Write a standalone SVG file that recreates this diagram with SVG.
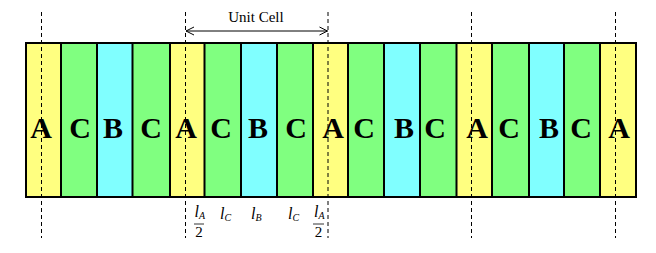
<svg xmlns="http://www.w3.org/2000/svg" width="656" height="253" viewBox="0 0 656 253">
<style>
.a{fill:#FFFF80}.c{fill:#80FF80}.b{fill:#80FFFF}
.s{stroke:#000;stroke-width:2}
.L{font-family:"Liberation Serif",serif;font-weight:bold;font-size:30px;text-anchor:middle;fill:#000}
.d{stroke:#000;stroke-width:1;stroke-dasharray:4,3;fill:none}
.m{font-family:"Liberation Serif",serif;font-style:italic;font-size:16px;fill:#000}
.sub{font-size:10px}
.n{font-family:"Liberation Serif",serif;font-size:15px;fill:#000;text-anchor:middle}
</style>
<defs>
<marker id="ah" markerWidth="10" markerHeight="10" refX="9" refY="5" orient="auto-start-reverse" markerUnits="userSpaceOnUse">
<path d="M1,1 L9,5 L1,9" fill="none" stroke="#000" stroke-width="1"/>
</marker>
</defs>
<g id="stripes">
<rect id="s1" class="a" x="26" y="43" width="35" height="154"/>
<rect id="s2" class="c" x="61" y="43" width="36" height="154"/>
<rect id="s3" class="b" x="97" y="43" width="35.5" height="154"/>
<rect id="s4" class="c" x="132.5" y="43" width="37.5" height="154"/>
<rect id="s5" class="a" x="170" y="43" width="34.5" height="154"/>
<rect id="s6" class="c" x="204.5" y="43" width="36.5" height="154"/>
<rect id="s7" class="b" x="241" y="43" width="36" height="154"/>
<rect id="s8" class="c" x="277" y="43" width="36" height="154"/>
<rect id="s9" class="a" x="313" y="43" width="35" height="154"/>
<rect id="s10" class="c" x="348" y="43" width="36" height="154"/>
<rect id="s11" class="b" x="384" y="43" width="36" height="154"/>
<rect id="s12" class="c" x="420" y="43" width="36.5" height="154"/>
<rect id="s13" class="a" x="456.5" y="43" width="35.5" height="154"/>
<rect id="s14" class="c" x="492" y="43" width="37" height="154"/>
<rect id="s15" class="b" x="529" y="43" width="35" height="154"/>
<rect id="s16" class="c" x="564" y="43" width="36" height="154"/>
<rect id="s17" class="a" x="600" y="43" width="36" height="154"/>
<path class="s" d="M61,43V197M97,43V197M132.5,43V197M170,43V197M204.5,43V197M241,43V197M277,43V197M313,43V197M348,43V197M384,43V197M420,43V197M456.5,43V197M492,43V197M529,43V197M564,43V197M600,43V197"/>
<rect class="s" x="26" y="43" width="610" height="154" fill="none"/>
</g>
<g id="letters">
<text class="L" x="41" y="138">A</text>
<text class="L" x="80" y="138">C</text>
<text class="L" x="113" y="138">B</text>
<text class="L" x="151" y="138">C</text>
<text class="L" x="186" y="138">A</text>
<text class="L" x="221" y="138">C</text>
<text class="L" x="258" y="138">B</text>
<text class="L" x="296" y="138">C</text>
<text class="L" x="333" y="138">A</text>
<text class="L" x="364" y="138">C</text>
<text class="L" x="404" y="138">B</text>
<text class="L" x="435" y="138">C</text>
<text class="L" x="477" y="138">A</text>
<text class="L" x="509" y="138">C</text>
<text class="L" x="549" y="138">B</text>
<text class="L" x="581" y="138">C</text>
<text class="L" x="619" y="138">A</text>
</g>
<g id="connectors">
<path class="d" d="M41.5,12V238M185.5,12V238M328,12V238M471.5,12V238M615.5,12V238"/>
<line x1="186" y1="31" x2="327.5" y2="31" stroke="#000" stroke-width="1" marker-start="url(#ah)" marker-end="url(#ah)"/>
</g>
<g id="label-unitcell">
<text class="n" x="256" y="22">Unit Cell</text>
</g>
<g id="dims">
<text class="m" x="194.5" y="217">l<tspan class="sub" dy="2">A</tspan></text>
<line x1="194" y1="224" x2="204" y2="224" stroke="#000" stroke-width="0.8"/>
<text class="n" x="199" y="237">2</text>
<text class="m" x="220" y="219">l<tspan class="sub" dy="2">C</tspan></text>
<text class="m" x="251" y="219">l<tspan class="sub" dy="2">B</tspan></text>
<text class="m" x="288" y="219">l<tspan class="sub" dy="2">C</tspan></text>
<text class="m" x="314" y="217">l<tspan class="sub" dy="2">A</tspan></text>
<line x1="313" y1="224" x2="324" y2="224" stroke="#000" stroke-width="0.8"/>
<text class="n" x="318.5" y="237">2</text>
</g>
</svg>
